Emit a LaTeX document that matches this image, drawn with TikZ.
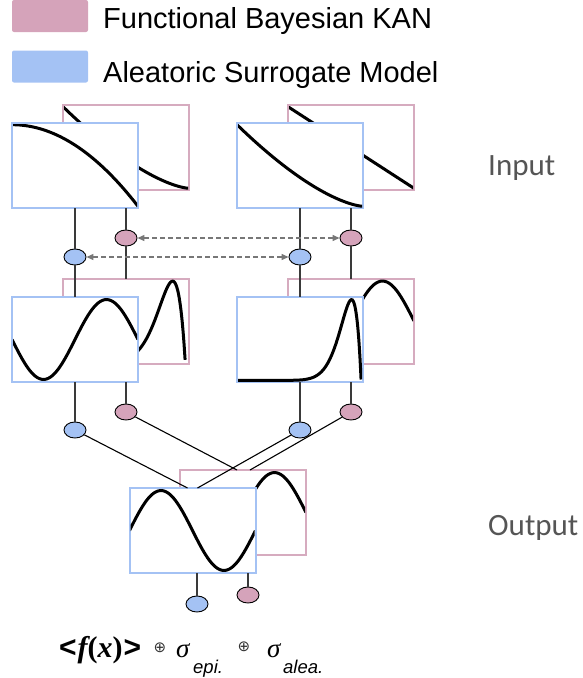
\documentclass[tikz,border=0pt]{standalone}
\usepackage{fontspec}
\setsansfont{Liberation Sans}
\newfontfamily\sidefont{Carlito}
\newfontfamily\formulafont{Liberation Serif}
\newfontfamily\symbolfont{DejaVu Sans}
\usetikzlibrary{shapes.geometric, arrows.meta, shadows}

\definecolor{kanpink}{HTML}{D5A3BA}
\definecolor{kanedge}{HTML}{D6ABBF}
\definecolor{asmblue}{HTML}{A4C2F4}
\definecolor{linkgray}{HTML}{3A3A3A}
\definecolor{dashgray}{HTML}{777777}
\definecolor{labgray}{HTML}{555555}

% curve drawn inside a panel (unit square = the panel)
\newcommand{\panelcurve}[2]{%
  \begin{scope}
    \clip ([shift={(1pt,1pt)}]#1.south west) rectangle ([shift={(-1pt,-1pt)}]#1.north east);
    \draw[curve, shift={(#1.south west)}, x=126pt, y=85pt] #2;
  \end{scope}}

\begin{document}
\begin{tikzpicture}[x=1pt, y=-1pt, >={Triangle[length=7pt, width=6pt]},
    panel/.style={line width=2pt, fill=white, minimum width=126pt, minimum height=85pt,
      inner sep=0pt, outer sep=0pt, drop shadow={shadow xshift=1.2pt, shadow yshift=-1.2pt, opacity=0.2}},
    kanpanel/.style={panel, draw=kanedge},
    asmpanel/.style={panel, draw=asmblue},
    curve/.style={line width=3pt, smooth, samples=80},
    knot/.style={ellipse, draw=black, line width=0.9pt, minimum width=22pt, minimum height=16pt, inner sep=0pt},
    kanknot/.style={knot, fill=kanpink},
    asmknot/.style={knot, fill=asmblue},
    link/.style={draw=linkgray, line width=1.4pt},
    pair/.style={<->, draw=dashgray, dash pattern=on 5pt off 3pt, line width=1.3pt},
    legendbox/.style={minimum width=76pt, minimum height=32pt, inner sep=0pt, rounded corners=2pt},
    legendtext/.style={anchor=base west, inner sep=0pt, font=\fontsize{29}{34}\selectfont\sffamily},
    sidetext/.style={anchor=base west, inner sep=0pt, text=labgray, font=\fontsize{31}{36}\selectfont\sidefont},
    formula/.style={anchor=base west, inner sep=0pt, font=\fontsize{30}{34}\selectfont\formulafont},
    subtext/.style={anchor=base west, inner sep=0pt, font=\fontsize{18.5}{22}\selectfont\sffamily\itshape},
    oplus/.style={inner sep=0pt, text=black!80, font=\fontsize{15}{16}\selectfont\symbolfont}]
    \useasboundingbox (0,0) rectangle (582,678);

    % Legend
    \node[legendbox, fill=kanpink] (kanlegend) at (50,16) {};
    \node[legendbox, fill=asmblue] (asmlegend) at (50,66.5) {};
    \node[legendtext] (kantext) at (103,28) {Functional Bayesian KAN};
    \node[legendtext] (asmtext) at (103,82) {Aleatoric Surrogate Model};

    % Functional Bayesian KAN panels (behind)
    \node[kanpanel] (p11) at (126,147.5) {};
    \panelcurve{p11}{plot[domain=0:1] (\x, {0.02+0.96*(1-\x)*sqrt(1-\x)})}
    \node[kanpanel] (p12) at (351,147.5) {};
    \panelcurve{p12}{plot[domain=0:1] (\x, {0.98-0.96*\x})}
    \node[kanpanel] (p21) at (126,321) {};
    \panelcurve{p21}{plot[domain=0.3:0.97] (\x, {0.02+0.95*(\x^8.7)*(0.97-\x)/0.02977})}
    \node[kanpanel] (p22) at (351,321) {};
    \panelcurve{p22}{plot[domain=0:1] (\x, {0.5-0.47*sin(360*\x)})}
    \node[kanpanel] (p3) at (243,512.5) {};
    \panelcurve{p3}{plot[domain=0:1] (\x, {0.5-0.47*sin(360*\x)})}

    % Aleatoric surrogate panels (front)
    \node[asmpanel] (b11) at (75,165.5) {};
    \panelcurve{b11}{plot[domain=0:1] (\x, {0.98-0.96*\x*\x})}
    \node[asmpanel] (b12) at (300,165.5) {};
    \panelcurve{b12}{plot[domain=0:1] (\x, {0.02+0.96*(1-\x)*sqrt(1-\x)})}
    \node[asmpanel] (b21) at (75,339.5) {};
    \panelcurve{b21}{plot[domain=0:1] (\x, {0.5-0.47*sin(360*\x)})}
    \node[asmpanel] (b22) at (300,339.5) {};
    \panelcurve{b22}{(0,0.02) -- plot[domain=0.3:0.985] (\x, {0.02+0.95*(\x^12)*(0.985-\x)/0.02419})}
    \node[asmpanel] (b3) at (192.5,530.5) {};
    \panelcurve{b3}{plot[domain=0:1] (\x, {0.5+0.47*sin(360*\x)})}

    % Nodes
    \node[kanknot] (e11p) at (126,238) {};
    \node[asmknot] (e11b) at (75,257) {};
    \node[kanknot] (e12p) at (351,238) {};
    \node[asmknot] (e12b) at (300,257) {};
    \node[kanknot] (e21p) at (126,412) {};
    \node[asmknot] (e21b) at (75,430) {};
    \node[kanknot] (e22p) at (351,412) {};
    \node[asmknot] (e22b) at (300,430) {};
    \node[kanknot] (e3p) at (248,595) {};
    \node[asmknot] (e3b) at (197,604) {};

    % Links, first layer
    \draw[link] (b11) -- (e11b);
    \draw[link] (e11p |- b11.south) -- (e11p);
    \draw[link] (b12) -- (e12b);
    \draw[link] (e12p |- b12.south) -- (e12p);
    \draw[link] (e11b) -- (b21.north);
    \draw[link] (e11p) -- (p21.north);
    \draw[link] (e12b) -- (b22.north);
    \draw[link] (e12p) -- (p22.north);

    % Links, second layer
    \draw[link] (b21) -- (e21b);
    \draw[link] (e21p |- b21.south) -- (e21p);
    \draw[link] (b22) -- (e22b);
    \draw[link] (e22p |- b22.south) -- (e22p);
    \draw[link, line width=1.1pt, draw=black] (e21b) -- ([xshift=-5pt]b3.north);
    \draw[link, line width=1.1pt, draw=black] (e22b) -- ([xshift=5pt]b3.north);
    \draw[link, line width=1.1pt, draw=black] (e21p) -- ([xshift=-6pt]p3.north);
    \draw[link, line width=1.1pt, draw=black] (e22p) -- ([xshift=7pt]p3.north);

    % Output links
    \draw[link] (e3b.north |- b3.south) -- (e3b);
    \draw[link] (e3p.north |- b3.south) -- (e3p);

    % Shared pairs
    \draw[pair] (e11p) -- (e12p);
    \draw[pair] (e11b) -- (e12b);

    % Side labels
    \node[sidetext] (inlabel) at (488,175) {Input};
    \node[sidetext] (outlabel) at (488,535) {Output};

    % Output formula
    \node[formula] (fx) at (59,657) {{\sffamily\bfseries <}\kern1pt{\bfseries\itshape f}{\bfseries (}{\bfseries\itshape x}{\bfseries )}\kern1pt{\sffamily\bfseries >}};
    \node[oplus] (op1) at (160,648) {⊕};
    \node[formula, font=\fontsize{27}{32}\selectfont\formulafont\itshape] (sepi) at (176,657) {σ};
    \node[subtext] (epi) at (193,673) {epi.};
    \node[oplus] (op2) at (244,647) {⊕};
    \node[formula, font=\fontsize{27}{32}\selectfont\formulafont\itshape] (salea) at (267,657) {σ};
    \node[subtext] (alea) at (283,673) {alea.};
\end{tikzpicture}
\end{document}
